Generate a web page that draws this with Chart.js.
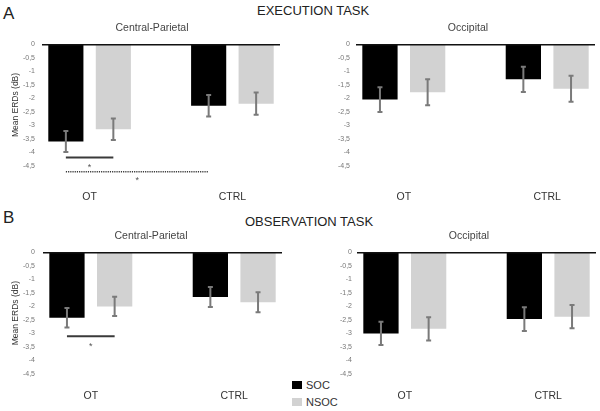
<!DOCTYPE html>
<html><head><meta charset="utf-8">
<script src="https://cdn.jsdelivr.net/npm/chart.js@4.4.1/dist/chart.umd.min.js"></script>
<style>
html,body{margin:0;padding:0;background:#fff}
body{width:600px;height:411px;position:relative;overflow:hidden;font-family:"Liberation Sans",Arial,Helvetica,sans-serif}
canvas{position:absolute}
.t{position:absolute;white-space:nowrap;color:#222;line-height:1}
.sq{position:absolute;width:10px;height:8px}
</style></head><body>
<div class="t" style="left:3px;top:5px;font-size:17px">A</div>
<div class="t" style="left:257px;top:4px;font-size:13px">EXECUTION TASK</div>
<div class="t" style="left:3px;top:209px;font-size:17px">B</div>
<div class="t" style="left:245px;top:215px;font-size:13px">OBSERVATION TASK</div>
<div class="sq" style="left:292px;top:381px;background:#000"></div>
<div class="t" style="left:306px;top:380px;font-size:11px;color:#333">SOC</div>
<div class="sq" style="left:292px;top:398px;background:#d2d2d2"></div>
<div class="t" style="left:306px;top:397px;font-size:11px;color:#333">NSOC</div>
<canvas id="p1" width="304" height="200" style="left:0;top:0"></canvas>
<canvas id="p2" width="264" height="200" style="left:336px;top:0"></canvas>
<canvas id="p3" width="302" height="211" style="left:0;top:200px"></canvas>
<canvas id="p4" width="262" height="211" style="left:338px;top:200px"></canvas>
<script>
// ---- data ----
const categories = ['OT', 'CTRL'];
const seriesNames = ['SOC', 'NSOC'];
const panelTitles = ['Central-Parietal', 'Occipital', 'Central-Parietal', 'Occipital'];
const yAxisTitle = 'Mean ERDs (dB)';
const yTicks = [0, -0.5, -1, -1.5, -2, -2.5, -3, -3.5, -4, -4.5];
const yTickLabels = ['0', '-0,5', '-1', '-1,5', '-2', '-2,5', '-3', '-3,5', '-4', '-4,5'];

// Execution task
const execCP_SOC = [-3.6, -2.28];
const execCP_SOC_err = [0.39, 0.40];
const execCP_NSOC = [-3.15, -2.2];
const execCP_NSOC_err = [0.40, 0.41];
const execOcc_SOC = [-2.05, -1.3];
const execOcc_SOC_err = [0.46, 0.47];
const execOcc_NSOC = [-1.78, -1.65];
const execOcc_NSOC_err = [0.48, 0.48];
// Observation task
const obsCP_SOC = [-2.42, -1.65];
const obsCP_SOC_err = [0.36, 0.37];
const obsCP_NSOC = [-2.0, -1.85];
const obsCP_NSOC_err = [0.36, 0.37];
const obsOcc_SOC = [-3.0, -2.47];
const obsOcc_SOC_err = [0.43, 0.44];
const obsOcc_NSOC = [-2.83, -2.38];
const obsOcc_NSOC_err = [0.43, 0.43];

// significance brackets: [datasetIndex, categoryIndex] pairs and level
const execCP_sig = [
  {a: [0, 0], b: [1, 0], level: -4.2, dashed: false},
  {a: [0, 0], b: [0, 1], level: -4.72, dashed: true}
];
const obsCP_sig = [
  {a: [0, 0], b: [1, 0], level: -3.1, dashed: false}
];

// ---- plugins ----
const errorBars = {
  id: 'errorBars',
  afterDatasetsDraw(chart) {
    const ctx = chart.ctx, ys = chart.scales.y;
    ctx.save();
    ctx.strokeStyle = '#7a7a7a';
    ctx.lineWidth = 2;
    chart.data.datasets.forEach((ds, di) => {
      const meta = chart.getDatasetMeta(di);
      meta.data.forEach((el, i) => {
        const v = ds.data[i].y, e = ds.errors[i];
        const y1 = ys.getPixelForValue(v + e), y2 = ys.getPixelForValue(v - e);
        const x = el.x;
        ctx.beginPath();
        ctx.moveTo(x, y1); ctx.lineTo(x, y2);
        ctx.moveTo(x - 2.5, y1); ctx.lineTo(x + 2.5, y1);
        ctx.moveTo(x - 2.5, y2); ctx.lineTo(x + 2.5, y2);
        ctx.stroke();
      });
    });
    ctx.restore();
  }
};
const sigMarks = {
  id: 'sigMarks',
  afterDraw(chart, args, opts) {
    const list = opts.items || [];
    const ctx = chart.ctx, ys = chart.scales.y;
    list.forEach(s => {
      const xa = chart.getDatasetMeta(s.a[0]).data[s.a[1]].x;
      const xb = chart.getDatasetMeta(s.b[0]).data[s.b[1]].x;
      const y = ys.getPixelForValue(s.level);
      ctx.save();
      ctx.strokeStyle = '#3a3a3a';
      ctx.lineWidth = s.dashed ? 1.5 : 2;
      if (s.dashed) ctx.setLineDash([1.2, 1]);
      ctx.beginPath(); ctx.moveTo(xa, y); ctx.lineTo(xb, y); ctx.stroke();
      ctx.setLineDash([]);
      ctx.fillStyle = '#555';
      ctx.font = '9px "Liberation Sans", Arial, sans-serif';
      ctx.textAlign = 'center';
      ctx.textBaseline = 'alphabetic';
      ctx.fillText('*', (xa + xb) / 2, y + (s.dashed ? 11.5 : 12.5));
      ctx.restore();
    });
  }
};

const FONT = '"Liberation Sans", Arial, Helvetica, sans-serif';
function makePanel(id, title, soc, socErr, nsoc, nsocErr, sig, L) {
  new Chart(document.getElementById(id), {
    type: 'bar',
    data: {
      datasets: [
        {label: seriesNames[0], data: soc.map((v, i) => ({x: i, y: v})), errors: socErr, backgroundColor: '#000'},
        {label: seriesNames[1], data: nsoc.map((v, i) => ({x: i, y: v})), errors: nsocErr, backgroundColor: '#d2d2d2'}
      ]
    },
    options: {
      responsive: false, animation: false, devicePixelRatio: 1,
      layout: {padding: 0},
      datasets: {bar: {barPercentage: 0.74, categoryPercentage: 0.665, borderWidth: 0}},
      plugins: {
        legend: {display: false}, tooltip: {enabled: false},
        title: {display: true, text: title, color: '#444', font: {family: FONT, size: 10.5, weight: 'normal'},
                padding: {top: L.titleTop, bottom: L.titleBottom}},
        sigMarks: {items: sig}
      },
      scales: {
        x: {
          type: 'linear', min: -1/3, max: 4/3, offset: false, bounds: 'data',
          afterBuildTicks: s => { s.ticks = categories.map((c, i) => ({value: i})); },
          afterFit: s => { s.height = L.xH; },
          grid: {display: false, offset: false}, border: {display: false},
          ticks: {callback: v => categories[v], color: '#333', padding: L.xPad, maxRotation: 0,
                  font: {family: FONT, size: 10.5}}
        },
        y: {
          min: -4.5, max: 0,
          afterBuildTicks: s => { s.ticks = yTicks.slice().reverse().map(v => ({value: v})); },
          afterFit: s => { s.width = L.yW; },
          border: {display: false},
          grid: {drawTicks: false, z: 1, lineWidth: 1.5,
                 color: c => (c.tick && c.tick.value === 0) ? '#111' : 'rgba(0,0,0,0)'},
          ticks: {callback: v => yTickLabels[yTicks.indexOf(v)], color: '#777', padding: L.yPad,
                  font: {family: FONT, size: 7}},
          title: {display: L.yTitle, text: yAxisTitle, color: '#333', font: {family: FONT, size: 8.5},
                  padding: {top: 11, bottom: 0}}
        },
        yRight: {
          position: 'right', min: -4.5, max: 0,
          afterFit: s => { s.width = L.padRight; },
          grid: {display: false}, border: {display: false}, ticks: {display: false}
        }
      }
    },
    plugins: [errorBars, sigMarks]
  });
}

makePanel('p1', panelTitles[0], execCP_SOC, execCP_SOC_err, execCP_NSOC, execCP_NSOC_err, execCP_sig,
  {padRight: 24, titleTop: 21.7, titleBottom: 10.0, xH: 34.3, xPad: 17, yW: 42, yPad: 7, yTitle: true});
makePanel('p2', panelTitles[1], execOcc_SOC, execOcc_SOC_err, execOcc_NSOC, execOcc_NSOC_err, [],
  {padRight: 5, titleTop: 21.7, titleBottom: 10.0, xH: 34.3, xPad: 17, yW: 20, yPad: 6, yTitle: false});
makePanel('p3', panelTitles[2], obsCP_SOC, obsCP_SOC_err, obsCP_NSOC, obsCP_NSOC_err, obsCP_sig,
  {padRight: 20, titleTop: 29.7, titleBottom: 10.0, xH: 37, xPad: 8, yW: 43, yPad: 8, yTitle: true});
makePanel('p4', panelTitles[3], obsOcc_SOC, obsOcc_SOC_err, obsOcc_NSOC, obsOcc_NSOC_err, [],
  {padRight: 4, titleTop: 29.7, titleBottom: 10.0, xH: 37, xPad: 8, yW: 19, yPad: 5, yTitle: false});
</script>
</body></html>
